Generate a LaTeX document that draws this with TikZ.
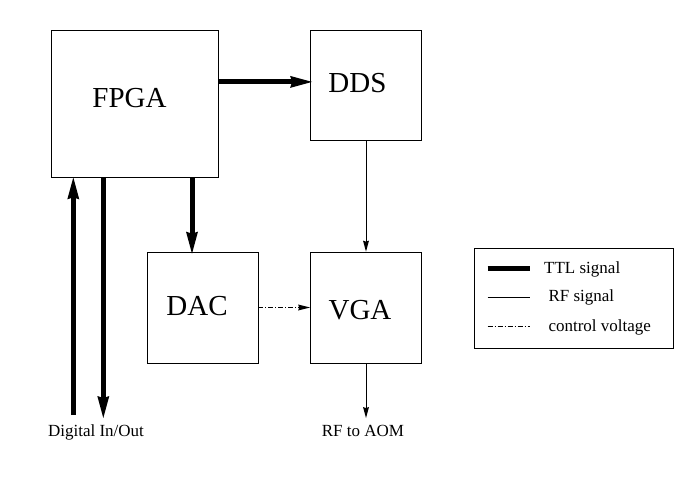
\documentclass[tikz,border=0pt]{standalone}
\usepackage{fontspec}
\setmainfont{Liberation Serif}
\usetikzlibrary{arrows.meta,positioning}

\begin{document}
\begin{tikzpicture}[x=1pt,y=-1pt,
  unit/.style={draw, line width=.8pt, inner sep=0pt},
  big/.style={font=\fontsize{29}{34}\selectfont, anchor=base, inner sep=0pt},
  small/.style={font=\fontsize{17}{20}\selectfont, inner sep=0pt},
  ttl/.style={line width=5pt, -{Stealth[length=22pt,width=12pt,inset=2pt,line width=0pt]}},
  rf/.style={line width=.8pt, -{Stealth[length=11pt,width=6pt,inset=1pt,line width=0pt]}},
  ctrl/.style={line width=.8pt, dash pattern=on 5pt off 2pt on 1pt off 2pt, -{Stealth[length=12pt,width=6pt,inset=1pt,line width=0pt]}}]
\useasboundingbox (0,0) rectangle (688,481);
% blocks
\node[unit, minimum width=167pt, minimum height=147pt] (fpga) at (134.5,103.5) {};
\node[unit, minimum width=111pt, minimum height=110pt] (dds) at (366,85.5) {};
\node[unit, minimum width=111pt, minimum height=111pt] (dac) at (202.5,307.5) {};
\node[unit, minimum width=111pt, minimum height=111pt] (vga) at (366,307.5) {};
\node[big] (fpganame) at (129.5,108) {FPGA};
\node[big] (ddsname) at (357.5,93) {DDS};
\node[big] (dacname) at (197,315) {DAC};
\node[big] (vganame) at (360,319) {VGA};
% outputs
\node[small, anchor=base] (dio) at (96,436.7) {Digital In/Out};
\node[small, anchor=base] (aom) at (363,436.7) {RF to AOM};
\coordinate (din) at (73.3,415);
\coordinate (dout) at (103.3,418);
\coordinate (aomin) at (366,418);
% signals
\draw[ttl] ([yshift=3.6pt]fpga.east |- dds.west) -- ([yshift=3.6pt,xshift=2pt]dds.west);
\draw[ttl] ([xshift=-10.5pt]dac.north |- fpga.south) -- ([xshift=-10.5pt,yshift=-2pt]dac.north);
\draw[ttl] (din) -- (din |- fpga.south);
\draw[ttl] (dout |- fpga.south) -- (dout);
\draw[rf] (dds) -- (vga);
\draw[rf] (vga) -- (aomin);
\draw[ctrl] (dac) -- (vga);
% legend
\node[unit, minimum width=199pt, minimum height=100pt] (legend) at (573.5,298) {};
\draw[line width=5pt] (487.5,268) -- (529.5,268);
\draw[line width=.8pt] (487.5,297) -- (529.5,297);
\draw[line width=.8pt, dash pattern=on 5pt off 2pt on 1pt off 2pt] (487.5,326) -- (529.5,326);
\node[small, anchor=base west] (ttlkey) at (544,273.3) {TTL signal};
\node[small, anchor=base west] (rfkey) at (548.3,301.7) {RF signal};
\node[small, anchor=base west] (ctrlkey) at (548.3,331.7) {control voltage};
\end{tikzpicture}
\end{document}
